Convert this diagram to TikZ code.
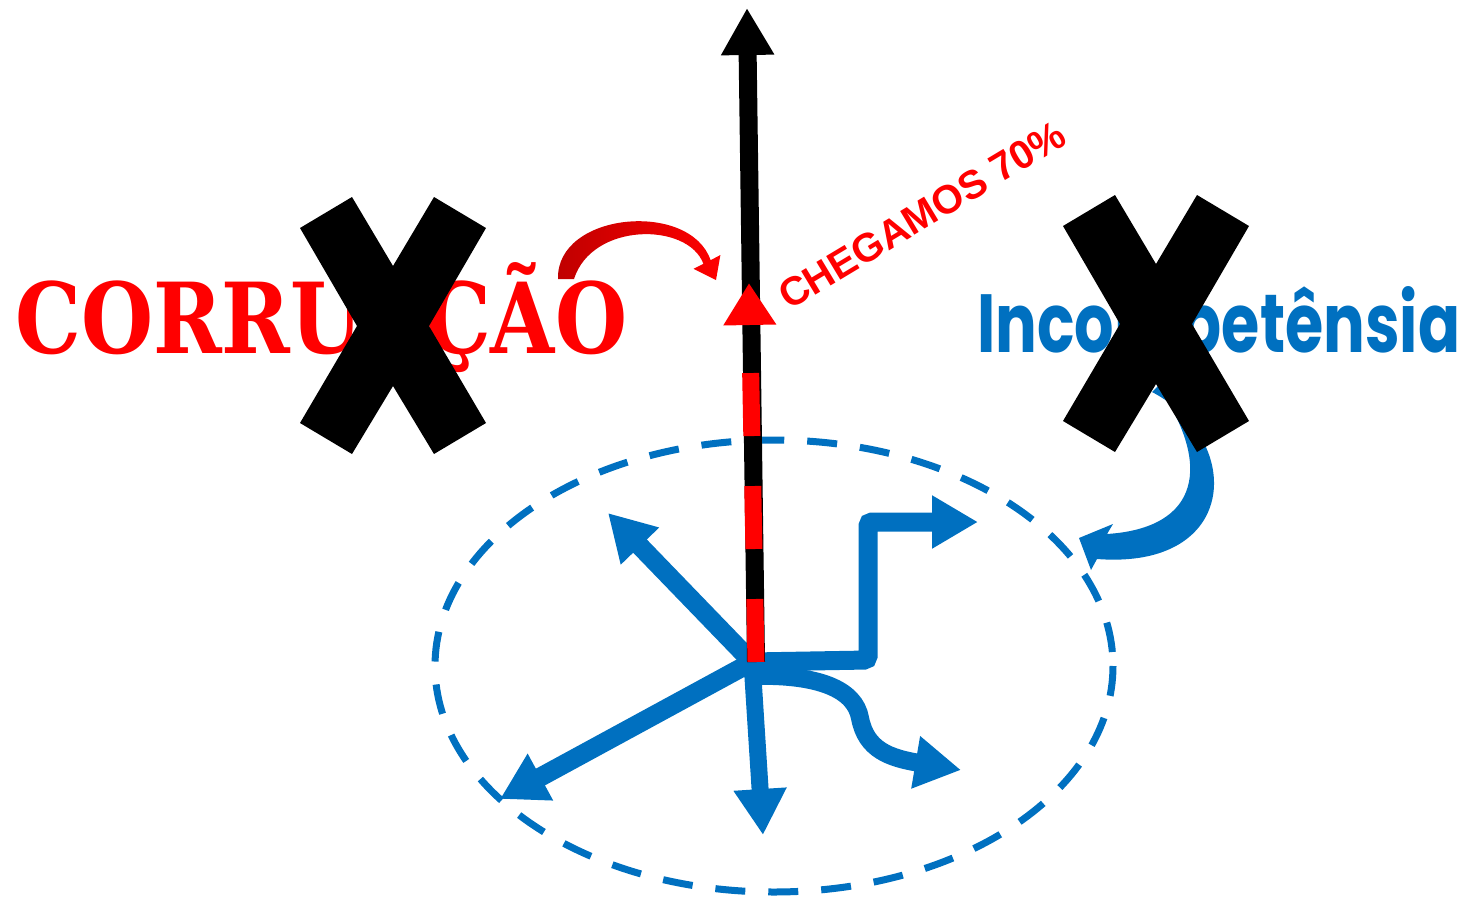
\documentclass[tikz,border=0pt]{standalone}
\usepackage{fontspec}
\usepackage{graphicx}
\usetikzlibrary{arrows.meta}
\newfontfamily\stencilfont{DejaVu Serif}
\newfontfamily\labelfont{Liberation Sans}
\newfontfamily\handfont{Poppins}
\definecolor{mblue}{RGB}{0,112,192}
\definecolor{mred}{RGB}{255,0,0}
\tikzset{
  bluearr/.style={-{Triangle[length=46pt, width=50pt]}, line width=19pt, draw=mblue},
  blackarr/.style={-{Triangle[length=47pt, width=50pt]}, line width=18pt, draw=black},
  redarr/.style={-{Triangle[length=42pt, width=50pt]}, line width=17pt, draw=mred,
    dash pattern=on 63pt off 50pt},
  ringline/.style={draw=mblue, line width=7pt, dash pattern=on 30pt off 23pt},
  crossmark/.pic={
    \fill[black] (-93,-98) -- (-41,-129) -- (0,-60) -- (41,-129) -- (93,-98) -- (36,0)
      -- (93,97) -- (41,128) -- (0,60) -- (-41,128) -- (-93,97) -- (-36,0) -- cycle;
  },
}

\begin{document}
\begin{tikzpicture}[x=1pt, y=-1pt]
\useasboundingbox (0,0) rectangle (1470,908);

% --- Texts ---
\node[anchor=base west, inner sep=0pt, text=mred] (corr) at (15,353)
  {\resizebox{612pt}{91pt}{\fontsize{100}{100}\selectfont\stencilfont\bfseries CORRUPÇÃO}};
\node[anchor=base west, inner sep=0pt, text=mblue] (incomp) at (977,352)
  {\resizebox{483pt}{66pt}{\fontsize{80}{80}\selectfont\handfont\bfseries Incompetênsia}};
\node[rotate=31, inner sep=0pt, text=mred] (chegamos) at (922,215)
  {\fontsize{40}{40}\selectfont\labelfont\bfseries CHEGAMOS 70\%};

% --- Dashed ring ---
\coordinate (ringc) at (774,666);
\draw[ringline] (ringc) ellipse [x radius=339, y radius=226];

% --- Blue arrows from the hub ---
\coordinate (hub) at (752,662);
\coordinate (tipnw) at (608,513);
\coordinate (tipsw) at (500,799);
\coordinate (tips) at (763,835);
\coordinate (tipne) at (978,522);
\coordinate (tipse) at (961,770);
\draw[bluearr] (hub) -- (tipnw);
\draw[bluearr] (hub) -- (tipsw);
\draw[bluearr, line width=17pt] (hub) -- (tips);
\draw[bluearr, rounded corners=4pt] (hub) -- (868,660) -- (868,522) -- (tipne);
\draw[bluearr, line width=18pt] (752,676) .. controls (820,674) and (855,690) .. (860,718)
  .. controls (866,750) and (890,758) .. (tipse);

% --- Axis: black arrow with red dashes ---
\coordinate (axisb) at (756,662);
\coordinate (axist) at (747,8);
\coordinate (redt) at (749,283);
\draw[blackarr] (axisb) -- (axist);
\draw[redarr] (axisb) -- (redt);

% --- Curved red arrow ---
\shade[left color=red!75!black, right color=mred]
  (558,279) .. controls (556,212) and (690,200) .. (710.6,260.2) -- (720.4,255) -- (716,280)
  -- (693.6,268.8) -- (703.4,263.8) .. controls (688,222) and (592,222) .. (574,279) -- cycle;

% --- Curved blue arrow ---
\fill[mblue]
  (1152,392) .. controls (1244,440) and (1240,570) .. (1097,559) -- (1091,570) -- (1079,538)
  -- (1113,524) -- (1107,534) .. controls (1200,528) and (1212,465) .. (1158,386) -- cycle;

% --- Crosses ---
\pic (xleft) at (393,326) {crossmark};
\pic (xright) at (1156,324) {crossmark};

\end{tikzpicture}
\end{document}
